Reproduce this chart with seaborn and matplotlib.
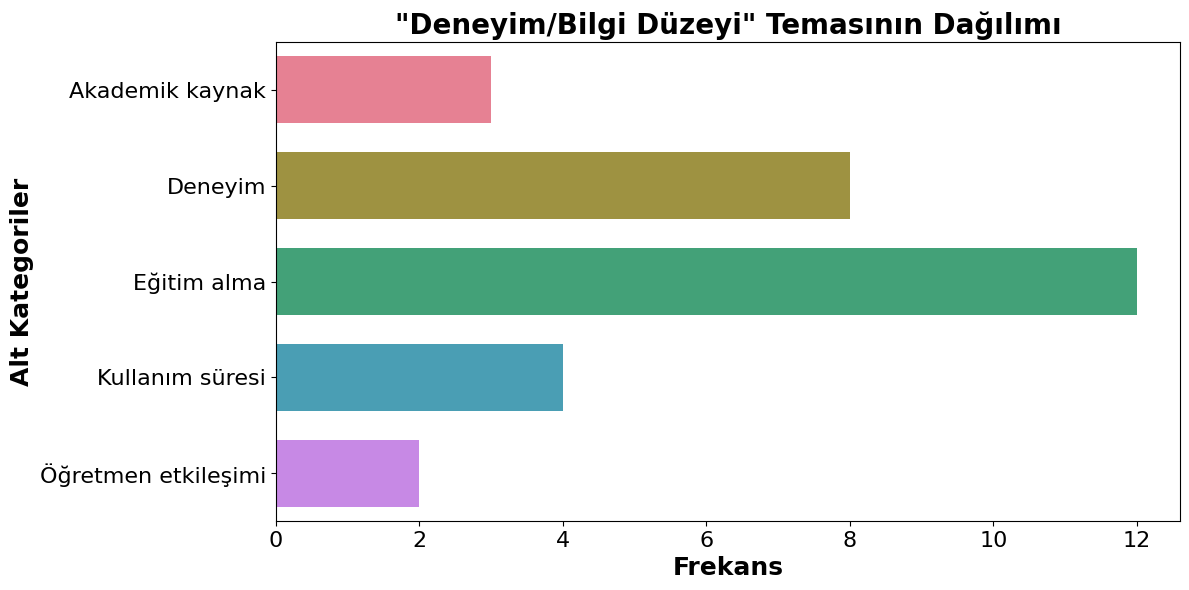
import matplotlib
matplotlib.use("Agg")
import matplotlib.pyplot as plt
import seaborn as sns
import pandas as pd

# veriler
alt_kategoriler = ["Akademik kaynak", "Deneyim", "Eğitim alma", "Kullanım süresi", "Öğretmen etkileşimi"]
frekanslar = [3, 8, 12, 4, 2]

df = pd.DataFrame({"Alt Kategori": alt_kategoriler, "Frekans": frekanslar})

fig, ax = plt.subplots(figsize=(11.89, 5.9), dpi=100)
sns.barplot(data=df, x="Frekans", y="Alt Kategori", hue="Alt Kategori",
            palette="husl", width=0.7, legend=False, ax=ax)

ax.set_title('"Deneyim/Bilgi Düzeyi" Temasının Dağılımı', fontsize=20, fontweight="bold")
ax.set_xlabel("Frekans", fontsize=18, fontweight="bold")
ax.set_ylabel("Alt Kategoriler", fontsize=18, fontweight="bold")
ax.tick_params(axis="both", labelsize=16)

plt.subplots_adjust(left=0.2321, right=0.9924, top=0.9288, bottom=0.1169)
plt.savefig("out.png", dpi=100)
